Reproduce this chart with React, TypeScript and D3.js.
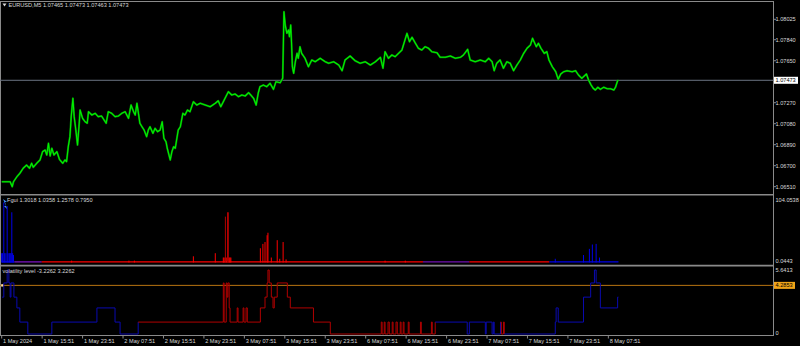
import React, { useEffect } from 'react';
import * as d3 from 'd3';

const W = 800;
const H = 346;

// ---- data ----
const timeLabels = [
  '1 May 2024', '1 May 15:51', '1 May 23:51', '2 May 07:51', '2 May 15:51', '2 May 23:51',
  '3 May 07:51', '3 May 15:51', '3 May 23:51', '6 May 07:51', '6 May 15:51', '6 May 23:51',
  '7 May 07:51', '7 May 15:51', '7 May 23:51', '8 May 07:51',
];
const barsPerLabel = 96;
const totalBars = 1832;

const priceTicks = [1.08025, 1.0784, 1.0765, 1.0727, 1.0708, 1.0689, 1.067, 1.0651];
const lastPrice = 1.07473;
const ohlc = [1.07465, 1.07473, 1.07463, 1.07473];

// [bar index, close]
const priceSeries: [number, number][] = [
  [0, 1.06555], [20, 1.06555], [25, 1.0651], [28, 1.06555], [36, 1.066], [43, 1.06631], [51, 1.06677],
  [59, 1.06706], [66, 1.06677], [71, 1.06722], [75, 1.06686], [83, 1.06722], [91, 1.06752], [97, 1.06827],
  [103, 1.06842], [107, 1.06797], [111, 1.06903], [115, 1.06788], [119, 1.06858], [124, 1.06797],
  [131, 1.06827], [137, 1.06758], [145, 1.06722], [150, 1.06752], [154, 1.06737], [158, 1.06872],
  [162, 1.06963], [165, 1.07144], [169, 1.0731], [172, 1.07144], [176, 1.07023], [180, 1.06887],
  [184, 1.07084], [186, 1.07204], [192, 1.07129], [198, 1.07098], [203, 1.07084], [206, 1.07189],
  [214, 1.07159], [222, 1.07174], [229, 1.07144], [237, 1.0715], [243, 1.07114], [248, 1.07084],
  [253, 1.07189], [261, 1.07174], [269, 1.07144], [277, 1.0715], [285, 1.07174], [293, 1.07189],
  [301, 1.07129], [307, 1.07249], [313, 1.07189], [317, 1.07159], [321, 1.07265], [324, 1.07189],
  [328, 1.07084], [333, 1.07053], [338, 1.07023], [344, 1.06963], [348, 1.07023], [352, 1.07053],
  [359, 1.06993], [364, 1.07038], [370, 1.07008], [376, 1.07023], [381, 1.07098], [385, 1.06948],
  [390, 1.06917], [393, 1.06858], [397, 1.06797], [400, 1.06752], [404, 1.06827], [408, 1.06872],
  [412, 1.06858], [419, 1.07023], [424, 1.07053], [430, 1.07174], [435, 1.07159], [441, 1.07204],
  [447, 1.07189], [455, 1.07279], [463, 1.07249], [471, 1.07265], [483, 1.07249], [495, 1.07234],
  [507, 1.07265], [514, 1.07288], [520, 1.07234], [526, 1.07279], [538, 1.0737], [546, 1.0734],
  [554, 1.07349], [562, 1.07325], [570, 1.0734], [578, 1.07331], [586, 1.07361], [591, 1.0734],
  [598, 1.0731], [604, 1.07249], [609, 1.07358], [613, 1.07415], [621, 1.0743], [629, 1.07415],
  [637, 1.07446], [645, 1.07391], [651, 1.0746], [661, 1.07451], [667, 1.07491], [670, 1.08094],
  [673, 1.07973], [677, 1.07898], [681, 1.07928], [683, 1.07868], [686, 1.07973], [688, 1.07808],
  [690, 1.07596], [693, 1.07536], [697, 1.07641], [701, 1.07717], [704, 1.07672], [708, 1.07777],
  [712, 1.07717], [720, 1.07672], [728, 1.07596], [736, 1.07657], [744, 1.07641], [756, 1.07672],
  [768, 1.07641], [776, 1.07627], [788, 1.07641], [800, 1.07611], [808, 1.0756], [815, 1.07657],
  [827, 1.07693], [839, 1.0765], [851, 1.07627], [863, 1.07641], [875, 1.07611], [887, 1.07641],
  [899, 1.07681], [905, 1.07582], [910, 1.07732], [918, 1.07672], [926, 1.07702], [934, 1.07687],
  [942, 1.07717], [950, 1.07747], [962, 1.07898], [968, 1.07822], [974, 1.07862], [982, 1.07808],
  [989, 1.07763], [997, 1.07747], [1005, 1.07777], [1013, 1.07763], [1021, 1.07732], [1033, 1.07723],
  [1041, 1.07681], [1053, 1.07681], [1065, 1.07693], [1077, 1.07672], [1089, 1.07681], [1096, 1.07702],
  [1106, 1.07753], [1112, 1.07657], [1124, 1.07641], [1136, 1.07657], [1148, 1.07641], [1156, 1.07672],
  [1164, 1.07641], [1169, 1.0756], [1175, 1.07627], [1183, 1.07657], [1191, 1.07582], [1199, 1.07641],
  [1207, 1.07627], [1215, 1.0756], [1223, 1.07611], [1231, 1.07657], [1239, 1.07717], [1247, 1.07763],
  [1255, 1.07792], [1260, 1.07853], [1269, 1.07777], [1274, 1.07808], [1280, 1.07763], [1288, 1.07717],
  [1294, 1.07732], [1299, 1.07657], [1307, 1.07596], [1315, 1.07551], [1321, 1.07482], [1327, 1.0753],
  [1334, 1.07551], [1342, 1.0756], [1354, 1.07551], [1362, 1.0756], [1369, 1.07521], [1377, 1.07491],
  [1388, 1.0753], [1393, 1.07476], [1399, 1.0743], [1404, 1.07401], [1409, 1.07385], [1415, 1.0741],
  [1421, 1.07391], [1429, 1.0741], [1437, 1.07397], [1445, 1.07397], [1453, 1.07385], [1457, 1.0741],
  [1462, 1.07469], [1464, 1.07473],
];

const fguiLabel = 'Fgui 1.3018 1.0358 1.2578 0.7950';
const fguiMax = 104.0538;
const fguiMinLabel = '0.0443';
const fguiBaseValue = 1;
// [bar, value, direction 1=up(blue) -1=down(red)]
const fguiBars: [number, number, number][] = [
  [0, 15, 1], [2, 15, 1], [5, 97, 1], [7, 15, 1], [10, 15, 1], [13, 91, 1], [15, 15, 1], [18, 15, 1],
  [20, 15, 1], [22, 15, 1], [24, 81, 1], [26, 15, 1], [28, 12, 1],
  [166, 3, -1], [302, 3, -1], [315, 3, -1], [455, 10, -1], [507, 15, -1],
  [526, 8, -1], [528, 8, -1], [531, 74, -1], [533, 8, -1], [536, 81, -1], [538, 81, -1], [540, 8, -1],
  [542, 8, -1], [544, 8, -1],
  [614, 23, -1], [620, 30, -1], [625, 33, -1], [630, 44, -1], [632, 48, -1], [640, 8, -1], [654, 36, -1],
  [660, 6, -1], [668, 33, -1], [675, 5, -1], [910, 3, -1], [958, 3, -1],
  [1314, 6, 1], [1381, 12, 1], [1395, 22, 1], [1402, 29, 1], [1411, 30, 1], [1419, 8, 1],
];
// [startBar, endBar, direction 1 blue, 0 mixed, -1 red]
const fguiBase: [number, number, number][] = [
  [0, 30, 1], [30, 95, 0], [95, 1000, -1], [1000, 1110, 0], [1110, 1300, -1], [1300, 1464, 1],
];

const volLabel = 'volatility level -3.2262 3.2262';
const volMax = 5.6413;
const volLevel = 4.2853;
// [bar, level, direction]
const volSeries: [number, number, number][] = [
  [1, 3.25, 1], [5, 4.5, 1], [13, 5.64, 1], [17, 4.5, 1], [20, 3.25, 1], [22, 4.5, 1], [29, 3.25, 1],
  [36, 2.3, 1], [43, 1.05, 1], [62, 0, 1], [119, 1.05, 1], [226, 2.3, 1], [269, 1.05, 1], [281, 0, 1],
  [324, 1.05, -1], [526, 4.5, -1], [528, 1.05, -1], [533, 4.5, -1], [535, 3.25, -1], [537, 4.5, -1],
  [540, 2.3, -1], [542, 1.05, -1], [559, 2.3, -1], [561, 1.05, -1], [573, 2.3, -1], [575, 1.05, -1],
  [580, 2.3, -1], [583, 1.05, -1], [614, 2.3, -1], [625, 3.25, -1], [630, 4.5, -1], [632, 5.64, -1],
  [635, 4.5, -1], [640, 3.25, -1], [644, 2.3, -1], [647, 3.25, -1], [654, 4.5, -1], [678, 3.25, -1],
  [685, 2.3, -1], [740, 1.05, -1], [780, 0, -1], [901, 1.05, -1], [903, 0, -1], [908, 1.05, -1],
  [910, 0, -1], [917, 1.05, -1], [920, 0, -1], [927, 1.05, -1], [929, 0, -1], [936, 1.05, -1],
  [939, 0, -1], [946, 1.05, -1], [948, 0, -1], [953, 1.05, -1], [955, 0, -1], [965, 1.05, -1],
  [967, 0, -1], [994, 1.05, -1], [996, 0, -1], [1020, 1.05, -1], [1022, 0, -1], [1029, 1.05, 1],
  [1105, 0, 1], [1110, 1.05, 1], [1148, 0, 1], [1150, 1.05, 1], [1164, 0, 1], [1167, 1.05, 1],
  [1169, 0, 1], [1184, 1.05, -1], [1186, 0, -1], [1191, 1.05, -1], [1193, 0, 1], [1314, 1.05, 1],
  [1316, 2.3, 1], [1321, 1.05, 1], [1381, 3.25, 1], [1398, 4.5, 1], [1407, 5.64, 1], [1411, 4.5, 1],
  [1421, 2.3, 1], [1462, 3.25, 1], [1464, 3.25, 1],
];

// ---- layout ----
const RIGHT = 773.5;
const FONT = '"Liberation Sans", Arial, sans-serif';
const FS = 5.6;
const TXT = '#d8d8d8';
const GRID = '#8a8a8a';

const x = d3.scaleLinear().domain([0, totalBars]).range([1.7, RIGHT]);
const yMain = d3.scaleLinear().domain([1.0651, 1.08025]).range([186.7, 19.3]);
const yF = d3.scaleLinear().domain([0, fguiMax]).range([262.5, 198]);
const yV = d3.scaleLinear().domain([0, volMax]).range([334, 270]);

const dirColor = (d: number) => (d > 0 ? '#0000e8' : d < 0 ? '#ff0000' : '#7010b0');
const volColor = (d: number) => (d > 0 ? '#0a0ab0' : '#b00000');

export default function App() {
  useEffect(() => {
    document.body.style.margin = '0';
    document.body.style.background = '#000';
  }, []);

  const line = d3
    .line<[number, number]>()
    .x((d) => x(d[0]))
    .y((d) => yMain(d[1]))
    .curve(d3.curveLinear);
  const pricePath = line(priceSeries) || '';

  const volSegs = volSeries.slice(0, -1).map((p, i) => {
    const n = volSeries[i + 1];
    return {
      d: `M${x(p[0])},${yV(p[1])}H${x(n[0])}V${yV(n[1])}`,
      c: volColor(p[2]),
    };
  });

  const text = (
    s: string,
    tx: number,
    ty: number,
    fill = TXT,
    anchor: 'start' | 'end' | 'middle' = 'start'
  ) => (
    <text x={tx} y={ty} fill={fill} fontFamily={FONT} fontSize={FS} textAnchor={anchor} dominantBaseline="central">
      {s}
    </text>
  );

  return (
    <svg width={W} height={H} style={{ display: 'block', position: 'absolute', left: 0, top: 0, background: '#000' }}>
      <rect x={0} y={0} width={W} height={H} fill="#000" />

      {/* panel borders */}
      <line x1={0} x2={RIGHT} y1={1.5} y2={1.5} stroke={GRID} strokeWidth={1} />
      <line x1={0.5} x2={0.5} y1={1} y2={336} stroke={GRID} strokeWidth={1} />
      <line x1={RIGHT} x2={RIGHT} y1={1} y2={336} stroke={GRID} strokeWidth={1} />
      <line x1={0} x2={RIGHT} y1={194.8} y2={194.8} stroke={GRID} strokeWidth={1.6} />
      <line x1={0} x2={RIGHT} y1={265.6} y2={265.6} stroke={GRID} strokeWidth={1.6} />
      <line x1={0} x2={RIGHT} y1={335.5} y2={335.5} stroke={GRID} strokeWidth={1} />

      {/* main panel */}
      <line x1={0} x2={RIGHT} y1={yMain(lastPrice)} y2={yMain(lastPrice)} stroke="#6a7383" strokeWidth={1} />
      <path d={pricePath} fill="none" stroke="#007a00" strokeWidth={2} strokeLinejoin="round" />
      <path d={pricePath} fill="none" stroke="#00f000" strokeWidth={1.1} strokeLinejoin="round" />

      {priceTicks.map((p) => (
        <g key={p}>
          <line x1={RIGHT} x2={RIGHT + 2.5} y1={yMain(p)} y2={yMain(p)} stroke={GRID} />
          {text(p.toFixed(5), 775.5, yMain(p))}
        </g>
      ))}
      <rect x={774} y={yMain(lastPrice) - 3.5} width={24} height={7} fill="#ffffff" />
      {text(lastPrice.toFixed(5), 775.5, yMain(lastPrice), '#000')}

      <path d="M2.5,3.5 L6.5,3.5 L4.5,6.5 Z" fill={TXT} />
      {text('EURUSD,M5  ' + ohlc.map((v) => v.toFixed(5)).join(' '), 8.5, 5)}

      {/* Fgui panel */}
      {fguiBase.map((s, i) => (
        <line
          key={i}
          x1={x(s[0])}
          x2={x(s[1])}
          y1={yF(fguiBaseValue)}
          y2={yF(fguiBaseValue)}
          stroke={dirColor(s[2])}
          strokeWidth={1.4}
        />
      ))}
      {fguiBars.map((b, i) => (
        <line
          key={i}
          x1={x(b[0])}
          x2={x(b[0])}
          y1={yF(0)}
          y2={yF(b[1])}
          stroke={b[1] > 50 ? (b[2] > 0 ? '#0000e8' : '#b00000') : dirColor(b[2])}
          strokeWidth={1}
        />
      ))}
      <path d="M3,199 L6,206 L4,206 L7,209 L5,202 L7,202 Z" fill="#3c8cff" />
      {text(fguiLabel, 7, 199.5)}
      {text(fguiMax.toFixed(4), 775.5, 199.5)}
      {text(fguiMinLabel, 775.5, 261.3)}

      {/* volatility panel */}
      <line x1={0} x2={RIGHT} y1={yV(volLevel)} y2={yV(volLevel)} stroke="#b87410" strokeWidth={1} />
      <rect x={1.2} y={yV(volLevel) - 1.2} width={2.4} height={2.4} fill="#ffe2a0" />
      {volSegs.map((s, i) => (
        <path key={i} d={s.d} fill="none" stroke={s.c} strokeWidth={1} />
      ))}
      {text(volLabel, 2.5, 270.5)}
      {text(volMax.toFixed(4), 775.5, 270)}
      <rect x={774} y={yV(volLevel) - 3.5} width={21} height={7} fill="#f0a418" />
      {text(volLevel.toFixed(4), 775.5, yV(volLevel), '#000')}
      {text('0', 775.5, 332.5)}

      {/* time axis */}
      {timeLabels.map((t, i) => (
        <g key={t}>
          <line x1={x(i * barsPerLabel)} x2={x(i * barsPerLabel)} y1={335.5} y2={338.5} stroke={GRID} />
          {text(t, x(i * barsPerLabel) + 1.3, 341)}
        </g>
      ))}
    </svg>
  );
}
